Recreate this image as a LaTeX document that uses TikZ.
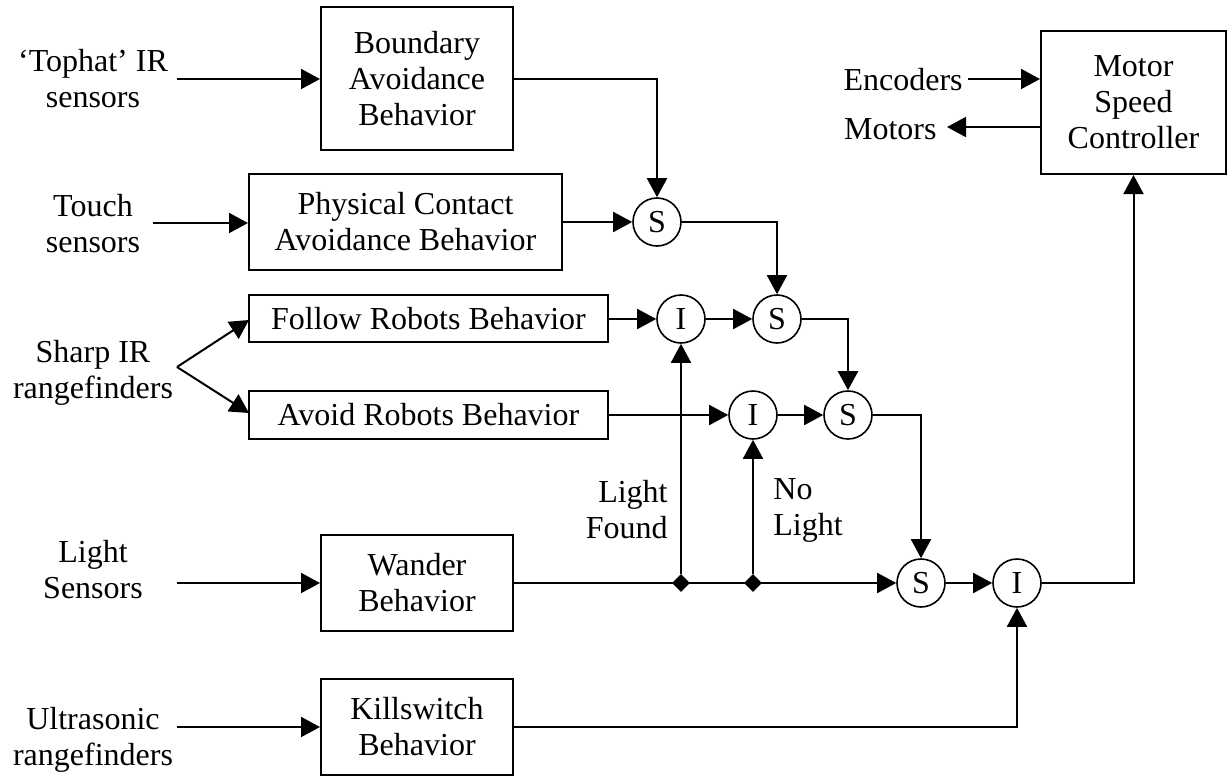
\documentclass[tikz,border=0pt]{standalone}
\usepackage{fontspec}
\setmainfont{Liberation Serif}
\usepackage{tikz}
\usetikzlibrary{arrows.meta,positioning,shapes.geometric}
\tikzset{
  box/.style={draw,line width=1pt,align=center,inner sep=0pt},
  jn/.style={circle,draw,line width=0.8pt,minimum size=24pt,inner sep=0pt},
  dot/.style={diamond,fill=black,inner sep=0pt,minimum width=9pt,minimum height=9pt},
  arr/.style={-{Triangle[length=9.5pt,width=10pt]},line width=1pt},
  ln/.style={line width=1pt},
  lbl/.style={align=center,inner sep=0pt},
}

\begin{document}
\begin{tikzpicture}[x=0.5pt,y=-0.5pt,font=\fontsize{16}{18}\selectfont]
  \useasboundingbox (0,0) rectangle (1228,777);
  % behaviours
  \node[box,minimum width=96pt,minimum height=71.5pt] (bound) at (417,78.5) {Boundary\\Avoidance\\Behavior};
  \node[box,minimum width=156.5pt,minimum height=48pt] (phys) at (405.5,222) {Physical Contact\\Avoidance Behavior};
  \node[box,minimum width=179.5pt,minimum height=23.5pt] (follow) at (428.5,318.5) {Follow Robots Behavior};
  \node[box,minimum width=179.5pt,minimum height=24pt] (avoid) at (428.5,415) {Avoid Robots Behavior};
  \node[box,minimum width=96pt,minimum height=48pt] (wander) at (417,583) {Wander\\Behavior};
  \node[box,minimum width=96pt,minimum height=48pt] (kill) at (417,727) {Killswitch\\Behavior};
  \node[box,minimum width=92.5pt,minimum height=71.5pt] (motor) at (1133.5,102.5) {Motor\\Speed\\Controller};
  % suppress / inhibit nodes
  \node[jn] (s1) at (657,222) {S};
  \node[jn] (i1) at (681,319) {I};
  \node[jn] (s2) at (777,319) {S};
  \node[jn] (i2) at (753,415) {I};
  \node[jn] (s3) at (848,415) {S};
  \node[jn] (s4) at (921,583) {S};
  \node[jn] (i3) at (1017,583) {I};
  % sensors
  \node[lbl] (tophat) at (93,79) {‘Tophat’ IR\\sensors};
  \node[lbl] (touch) at (93,224) {Touch\\sensors};
  \node[lbl] (sharp) at (93,373) {Sharp IR\\rangefinders};
  \node[lbl] (lightin) at (93,570) {Light\\Sensors};
  \node[lbl] (ultra) at (93,740) {Ultrasonic\\rangefinders};
  \coordinate (tophat-o) at (177,79);
  \coordinate (touch-o) at (153,223);
  \coordinate (sharp-o) at (177,367);
  \coordinate (lightin-o) at (177,583);
  \coordinate (ultra-o) at (177,727);
  \coordinate (follow-in) at (249,320);
  \coordinate (avoid-in) at (249,413);
  \draw[arr] (tophat-o) -- (bound.west |- tophat-o);
  \draw[arr] (touch-o) -- (phys.west |- touch-o);
  \draw[arr] (sharp-o) -- (follow-in);
  \draw[arr] (sharp-o) -- (avoid-in);
  \draw[arr] (lightin-o) -- (wander.west);
  \draw[arr] (ultra-o) -- (kill.west);
  % motor side
  \node[lbl,anchor=east] (enc) at (963,80) {Encoders};
  \node[lbl,anchor=east] (mot) at (937,129) {Motors};
  \coordinate (enc-o) at (968,79);
  \coordinate (mot-i) at (947,127);
  \draw[arr] (enc-o) -- (motor.west |- enc-o);
  \draw[arr] (motor.west |- mot-i) -- (mot-i);
  % arbitration
  \draw[arr] (bound.east |- 0,79) -| (s1);
  \draw[arr] (phys) -- (s1);
  \draw[arr] (s1) -| (s2);
  \draw[arr] (follow.east |- i1) -- (i1);
  \draw[arr] (i1) -- (s2);
  \draw[arr] (s2) -| (s3);
  \draw[arr] (avoid) -- (i2);
  \draw[arr] (i2) -- (s3);
  \draw[arr] (s3) -| (s4);
  \draw[arr] (wander) -- (s4);
  \node[dot] (d1) at (681,583) {};
  \node[dot] (d2) at (753,583) {};
  \draw[arr] (d1) -- (i1);
  \draw[arr] (d2) -- (i2);
  \node[lbl,align=right,anchor=east] (found) at (668,510) {Light\\Found};
  \node[lbl,align=left,anchor=west] (nolight) at (773,510) {No\\Light};
  \draw[arr] (s4) -- (i3);
  \draw[arr] (kill) -| (i3);
  \draw[arr] (i3) -| (motor);
\end{tikzpicture}
\end{document}
